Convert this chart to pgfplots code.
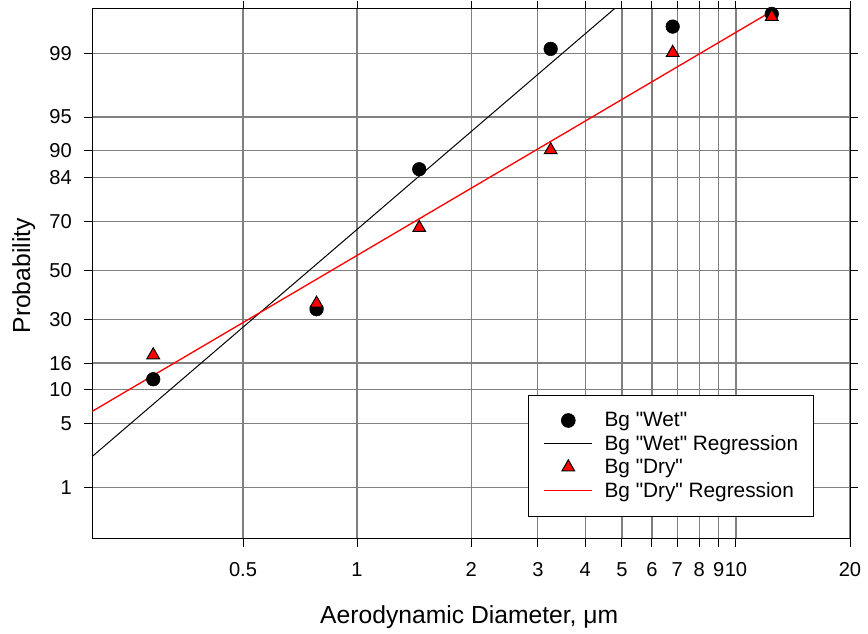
\documentclass[border=0pt]{standalone}
\usepackage{fontspec}
\setmainfont{Liberation Sans}[Ligatures=TeXOff]
\usepackage{pgfplots}
\pgfplotsset{compat=1.18}
\begin{document}
\begin{tikzpicture}
\begin{axis}[
  at={(69.2pt,71.5pt)}, anchor=south west,
  scale only axis, width=568.3pt, height=397.4pt,
  xmode=log, xmin=0.2, xmax=20, ymin=-2.878, ymax=2.806,
  xtick={0.5,1,2,3,4,5,6,7,8,9,10,20},
  xticklabels={0.5,1,2,3,4,5,6,7,8,9,10,20},
  ytick={-2.3263,-1.6449,-1.2816,-0.9945,-0.5244,0,0.5244,0.9945,1.2816,1.6449,2.3263},
  yticklabels={1,5,10,16,30,50,70,84,90,95,99},
  grid=major,
  major grid style={draw=black!50, line width=0.9pt},
  tick align=outside, major tick length=6pt,
  tick style={black, line width=0.75pt},
  axis line style={black, line width=0.75pt},
  tick label style={font=\fontsize{15.1}{18}\selectfont},
  xticklabel style={inner sep=0pt, anchor=north, yshift=-12pt},
  yticklabel style={inner sep=0pt, anchor=east, xshift=-9.2pt},
  xlabel={Aerodynamic Diameter, μm},
  ylabel={Probability},
  label style={font=\fontsize{18.5}{22}\selectfont},
  xlabel style={at={(axis description cs:0.4975,-0.1597)}, anchor=base, inner sep=0pt},
  ylabel style={at={(axis description cs:-0.082,0.496)}, anchor=base, rotate=0, inner sep=0pt},
  legend style={at={(0.5754,0.0415)}, anchor=south west, draw=black, line width=0.75pt, fill=white,
    inner xsep=11.25pt, inner ysep=12.8pt, row sep=5.0pt,
    font=\fontsize{15.6}{18}\selectfont,
    nodes={inner sep=0pt},
    /tikz/every even column/.append style={column sep=8.8pt}},
  legend cell align=left,
  legend image code/.code={\draw[mark repeat=2,mark phase=2,#1] plot coordinates {(0pt,0pt) (17.9pt,0pt) (35.8pt,0pt)};},
]
\addplot[only marks, mark=*, mark size=5.1pt, mark options={fill=black, draw=black}]
  coordinates {(0.2897,-1.168) (0.7818,-0.417) (1.459,1.085) (3.243,2.376) (6.808,2.615) (12.43,2.751)};
\addlegendentry{\hspace{8.8pt}Bg "Wet"}
\addplot[black, line width=0.75pt, no marks] coordinates {(0.2,-1.996) (4.776,2.806)};
\addlegendentry{\hspace{8.8pt}Bg "Wet" Regression}
\addplot[only marks, mark=triangle*, mark size=5.5pt, mark options={fill=red, draw=black, line width=0.75pt}]
  coordinates {(0.2897,-0.909) (0.7818,-0.355) (1.459,0.457) (3.243,1.291) (6.808,2.335) (12.43,2.721)};
\addlegendentry{\hspace{8.8pt}Bg "Dry"}
\addplot[red, line width=1pt, no marks] coordinates {(0.2,-1.512) (12.75,2.806)};
\addlegendentry{\hspace{8.8pt}Bg "Dry" Regression}
\end{axis}
\pgfresetboundingbox
\useasboundingbox (0,0) rectangle (651pt,475.5pt);
\end{tikzpicture}
\end{document}
